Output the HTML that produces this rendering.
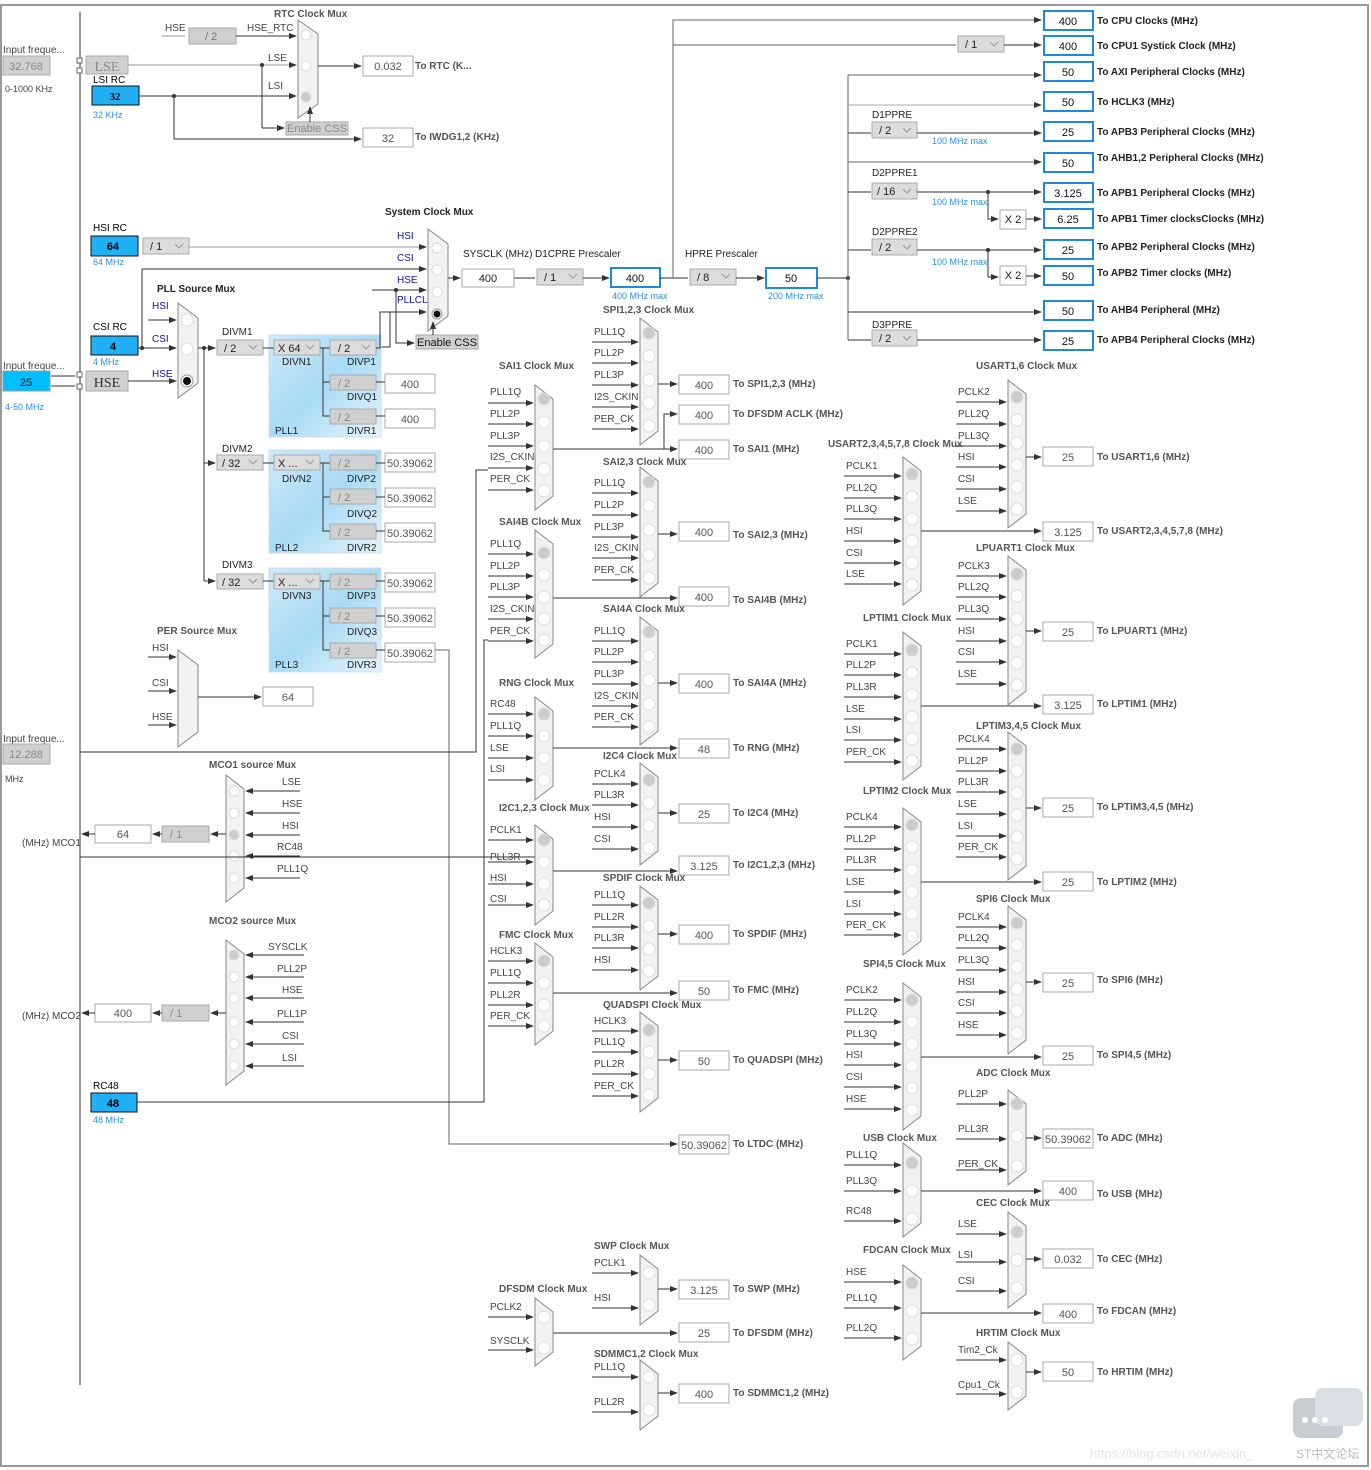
<!DOCTYPE html>
<html><head><meta charset="utf-8"><style>
html,body{margin:0;padding:0;background:#fff}
svg{display:block}
text{font-family:"Liberation Sans",sans-serif;font-size:10px;fill:#444}
.b{font-weight:bold;fill:#555}
.bl{fill:#2b8ff0}
.nv{fill:#1010b0}
.c{text-anchor:middle;fill:#555;font-size:11px}
.l{stroke:#333;stroke-width:1;fill:none}
.g{stroke:#999;stroke-width:1;fill:none}
.a{stroke:#333;stroke-width:1;fill:none;marker-end:url(#ar)}
.mx{fill:#f2f2f2;stroke:#888;stroke-width:1}
.ci{fill:#fff;stroke:#ddd}
.ob{fill:#fff;stroke:#aaa}
.bb{fill:#fff;stroke:#1e88e5;stroke-width:2}
.blu{fill:#1fb0f5;stroke:#111}
.dd{fill:#dcdcdc;stroke:#aaa}
.gr{fill:#d0d0d0;stroke:#aaa}
</style></head><body>
<svg width="1371" height="1470" viewBox="0 0 1371 1470" xmlns="http://www.w3.org/2000/svg">
<defs>
<marker id="ar" markerWidth="8" markerHeight="8" refX="7" refY="4" orient="auto" markerUnits="userSpaceOnUse"><path d="M0,1 L8,4 L0,7 z" fill="#333"/></marker>
<linearGradient id="pll" x1="0" y1="0" x2="1" y2="1"><stop offset="0" stop-color="#cde9f8"/><stop offset="0.5" stop-color="#a8dbf5"/><stop offset="1" stop-color="#e6f4fb"/></linearGradient>
</defs>
<rect x="1" y="5" width="1367" height="1461" fill="none" stroke="#999" stroke-width="2"/>
<line x1="80" y1="12" x2="80" y2="1385" class="l"/>

<!-- ===== top-left RTC ===== -->
<text x="3" y="53">Input freque...</text>
<rect x="3" y="56" width="47" height="19" class="gr"/><text x="26" y="70" class="c" style="fill:#888">32.768</text>
<text x="5" y="92" style="font-size:9px">0-1000 KHz</text>
<rect x="86" y="56" width="42" height="18" class="gr"/><text x="107" y="71" class="c" style="font-family:'Liberation Serif';font-size:14px;fill:#888">LSE</text>
<text x="93" y="83" style="fill:#000">LSI RC</text>
<rect x="92" y="86" width="47" height="19" class="blu"/><text x="115" y="100" class="c" style="fill:#000;font-weight:bold;font-family:'Liberation Serif'">32</text>
<text x="93" y="118" class="bl" style="font-size:9px">32 KHz</text>
<text x="274" y="17" class="b">RTC Clock Mux</text>
<text x="165" y="31">HSE</text><line x1="162" y1="36" x2="185" y2="36" class="g"/>
<rect x="189" y="28" width="47" height="16" class="gr"/><text x="205" y="40" style="fill:#777;font-size:11px">/ 2</text>
<text x="247" y="31">HSE_RTC</text>
<line x1="236" y1="36" x2="296" y2="36" class="a"/>
<polygon points="298,20 318,34 318,104 298,118" class="mx"/>
<circle cx="306" cy="35" r="5" class="ci"/><circle cx="306" cy="66" r="5" class="ci"/><circle cx="306" cy="97" r="5" fill="#ccc" stroke="#ddd"/>
<line x1="128" y1="65" x2="296" y2="65" class="a" style="stroke:#999"/><text x="268" y="61">LSE</text>
<line x1="139" y1="96" x2="296" y2="96" class="a"/><text x="268" y="89">LSI</text>
<circle cx="174" cy="96" r="2" fill="#333"/><circle cx="262" cy="65" r="2" fill="#333"/>
<line x1="262" y1="65" x2="262" y2="128" class="l"/><line x1="262" y1="128" x2="284" y2="128" class="a"/>
<rect x="286" y="122" width="62" height="13" class="gr"/><text x="317" y="132" class="c" style="fill:#888">Enable CSS</text>
<line x1="310" y1="122" x2="310" y2="107" class="a"/>
<line x1="318" y1="66" x2="361" y2="66" class="a"/>
<rect x="363" y="56" width="50" height="20" class="ob"/><text x="388" y="70" class="c">0.032</text><text x="415" y="69" class="b">To RTC (K...</text>
<line x1="174" y1="96" x2="174" y2="139" class="l"/><line x1="174" y1="139" x2="361" y2="139" class="a"/>
<rect x="363" y="128" width="50" height="19" class="ob"/><text x="388" y="142" class="c">32</text><text x="415" y="140" class="b">To IWDG1,2 (KHz)</text>

<!-- ===== HSI / CSI / HSE / system mux ===== -->
<text x="93" y="231" style="fill:#000">HSI RC</text>
<rect x="91" y="236" width="47" height="20" class="blu"/><text x="113" y="250" class="c" style="fill:#000;font-weight:bold">64</text>
<text x="93" y="265" class="bl" style="font-size:9px">64 MHz</text>
<rect x="143" y="238" width="46" height="16" class="dd"/><text x="150" y="250" style="font-size:11px;fill:#222">/ 1</text><path d="M175,244 l4,4 l4,-4" class="g"/>
<line x1="189" y1="247" x2="426" y2="247" class="a" style="stroke:#999"/>
<text x="93" y="330" style="fill:#000">CSI RC</text>
<rect x="91" y="336" width="47" height="19" class="blu"/><text x="113" y="350" class="c" style="fill:#000;font-weight:bold">4</text>
<text x="93" y="365" class="bl" style="font-size:9px">4 MHz</text>
<line x1="138" y1="348" x2="176" y2="348" class="a"/><circle cx="142" cy="348" r="2" fill="#333"/>
<line x1="142" y1="348" x2="142" y2="269" class="l"/><line x1="142" y1="269" x2="426" y2="269" class="a"/>
<text x="3" y="369">Input freque...</text>
<rect x="3" y="371" width="47" height="20" style="fill:#00bfff;stroke:#999"/><text x="26" y="386" class="c" style="fill:#000">25</text>
<text x="5" y="410" class="bl" style="font-size:9px">4-50 MHz</text>
<path d="M51,376 h24 M51,386 h24" class="l"/><rect x="77" y="372" width="5" height="5" fill="#fff" stroke="#666"/><rect x="77" y="384" width="5" height="5" fill="#fff" stroke="#666"/>
<rect x="77" y="58" width="5" height="5" fill="#fff" stroke="#666"/><rect x="77" y="68" width="5" height="5" fill="#fff" stroke="#666"/>
<rect x="86" y="371" width="42" height="20" class="gr"/><text x="107" y="387" class="c" style="font-family:'Liberation Serif';font-size:14px;fill:#333">HSE</text>
<line x1="128" y1="381" x2="176" y2="381" class="a"/>
<text x="157" y="292" class="b" style="fill:#222">PLL Source Mux</text>
<text x="152" y="309" class="nv">HSI</text><text x="152" y="342" class="nv">CSI</text><text x="152" y="377" class="nv">HSE</text>
<line x1="148" y1="320" x2="176" y2="320" class="a"/>
<polygon points="178,303 198,318 198,383 178,398" class="mx"/>
<circle cx="187" cy="320" r="6" class="ci"/><circle cx="187" cy="349" r="6" class="ci"/><circle cx="187" cy="381" r="6" fill="#fff" stroke="#999"/><circle cx="187" cy="381" r="4" fill="#111"/>
<line x1="198" y1="348" x2="215" y2="348" class="a"/><circle cx="204" cy="348" r="2" fill="#333"/>
<line x1="204" y1="348" x2="204" y2="581" class="l"/>
<line x1="204" y1="463" x2="215" y2="463" class="a"/><line x1="204" y1="581" x2="215" y2="581" class="a"/>

<text x="385" y="215" class="b" style="fill:#222">System Clock Mux</text>
<text x="397" y="239" class="nv">HSI</text><text x="397" y="261" class="nv">CSI</text><text x="397" y="283" class="nv">HSE</text><text x="397" y="303" class="nv">PLLCLK</text>
<line x1="372" y1="290" x2="426" y2="290" class="a"/><circle cx="396" cy="290" r="2" fill="#333"/>
<polygon points="428,229 448,244 448,316 428,331" class="mx"/>
<circle cx="437" cy="248" r="5" class="ci"/><circle cx="437" cy="270" r="5" class="ci"/><circle cx="437" cy="292" r="5" class="ci"/><circle cx="437" cy="314" r="5" fill="#fff" stroke="#999"/><circle cx="437" cy="314" r="3.5" fill="#111"/>
<path d="M380,347 h10 v-35 h36" class="a"/>
<path d="M396,290 v53 h18" class="a"/>
<rect x="416" y="335" width="62" height="14" class="gr"/><text x="447" y="346" class="c" style="fill:#111">Enable CSS</text>
<line x1="433" y1="335" x2="433" y2="322" class="a"/>
<line x1="448" y1="278" x2="460" y2="278" class="a"/>
<text x="463" y="257" style="fill:#222">SYSCLK (MHz)</text><text x="535" y="257" style="fill:#222">D1CPRE Prescaler</text>
<rect x="462" y="269" width="52" height="18" class="ob"/><text x="488" y="282" class="c" style="fill:#222">400</text>
<line x1="514" y1="278" x2="535" y2="278" class="l"/>
<rect x="537" y="269" width="46" height="16" class="dd"/><text x="544" y="281" style="font-size:11px;fill:#222">/ 1</text><path d="M569,274 l4,4 l4,-4" class="g"/>
<line x1="583" y1="278" x2="609" y2="278" class="a"/>
<rect x="611" y="268" width="49" height="19" class="bb"/><text x="635" y="282" class="c" style="fill:#111">400</text>
<text x="612" y="299" class="bl" style="font-size:9px">400 MHz max</text>
<text x="685" y="257" style="fill:#222">HPRE Prescaler</text>
<line x1="660" y1="278" x2="688" y2="278" class="l"/>
<rect x="690" y="269" width="46" height="16" class="dd"/><text x="697" y="281" style="font-size:11px;fill:#222">/ 8</text><path d="M722,274 l4,4 l4,-4" class="g"/>
<line x1="736" y1="278" x2="764" y2="278" class="a"/>
<rect x="766" y="268" width="51" height="20" class="bb"/><text x="791" y="282" class="c" style="fill:#111">50</text>
<text x="768" y="299" class="bl" style="font-size:9px">200 MHz max</text>
<line x1="817" y1="278" x2="848" y2="278" class="l"/><circle cx="848" cy="278" r="2" fill="#333"/>
<path d="M673,278 V20 H1041" class="a" style="stroke:#666"/>
<path d="M673,45 H956" class="l" style="stroke:#666"/>
<rect x="958" y="36" width="46" height="16" class="dd"/><text x="965" y="48" style="font-size:11px;fill:#222">/ 1</text><path d="M990,42 l4,4 l4,-4" class="g"/>
<line x1="1004" y1="45" x2="1041" y2="45" class="a"/>

<!-- bus -->
<line x1="848" y1="75" x2="848" y2="340" class="l" style="stroke:#666"/>
<line x1="848" y1="75" x2="1041" y2="75" class="a" style="stroke:#666"/>
<line x1="848" y1="105" x2="1041" y2="105" class="a" style="stroke:#aaa"/>
<text x="872" y="118" style="fill:#222">D1PPRE</text>
<line x1="848" y1="133" x2="871" y2="133" class="l"/><rect x="872" y="122" width="45" height="16" class="dd"/><text x="879" y="134" style="font-size:11px;fill:#222">/ 2</text><path d="M903,128 l4,4 l4,-4" class="g"/>
<line x1="917" y1="133" x2="1041" y2="133" class="a"/><text x="932" y="144" class="bl" style="font-size:9px">100 MHz max</text>
<line x1="848" y1="162" x2="1041" y2="162" class="a" style="stroke:#666"/>
<text x="872" y="176" style="fill:#222">D2PPRE1</text>
<line x1="848" y1="192" x2="871" y2="192" class="l"/><rect x="872" y="183" width="45" height="16" class="dd"/><text x="877" y="195" style="font-size:11px;fill:#222">/ 16</text><path d="M903,189 l4,4 l4,-4" class="g"/>
<line x1="917" y1="192" x2="1041" y2="192" class="a"/><text x="932" y="205" class="bl" style="font-size:9px">100 MHz max</text>
<circle cx="988" cy="192" r="2" fill="#333"/><path d="M988,192 v27 h10" class="a"/>
<rect x="1000" y="210" width="26" height="19" class="ob"/><text x="1013" y="223" class="c" style="fill:#222">X 2</text><line x1="1026" y1="219" x2="1041" y2="219" class="a"/>
<text x="872" y="235" style="fill:#222">D2PPRE2</text>
<line x1="848" y1="250" x2="871" y2="250" class="l"/><rect x="872" y="239" width="45" height="16" class="dd"/><text x="879" y="251" style="font-size:11px;fill:#222">/ 2</text><path d="M903,245 l4,4 l4,-4" class="g"/>
<line x1="917" y1="250" x2="1041" y2="250" class="a"/><text x="932" y="265" class="bl" style="font-size:9px">100 MHz max</text>
<circle cx="988" cy="250" r="2" fill="#333"/><path d="M988,250 v27 h10" class="a"/>
<rect x="1000" y="266" width="26" height="19" class="ob"/><text x="1013" y="279" class="c" style="fill:#222">X 2</text><line x1="1026" y1="276" x2="1041" y2="276" class="a"/>
<line x1="848" y1="312" x2="1041" y2="312" class="a"/>
<text x="872" y="328" style="fill:#222">D3PPRE</text>
<line x1="848" y1="340" x2="871" y2="340" class="l"/><rect x="872" y="330" width="45" height="16" class="dd"/><text x="879" y="342" style="font-size:11px;fill:#222">/ 2</text><path d="M903,336 l4,4 l4,-4" class="g"/>
<line x1="917" y1="340" x2="1041" y2="340" class="a"/>

<g style="font-size:11px">
<rect x="1044" y="11" width="49" height="19" class="bb"/><text x="1068" y="25" class="c" style="fill:#111">400</text><text x="1097" y="24" class="b" style="fill:#222">To CPU Clocks (MHz)</text>
<rect x="1044" y="36" width="49" height="19" class="bb"/><text x="1068" y="50" class="c" style="fill:#111">400</text><text x="1097" y="49" class="b" style="fill:#222">To CPU1 Systick Clock (MHz)</text>
<rect x="1044" y="62" width="49" height="19" class="bb"/><text x="1068" y="76" class="c" style="fill:#111">50</text><text x="1097" y="75" class="b" style="fill:#222">To AXI Peripheral Clocks (MHz)</text>
<rect x="1044" y="92" width="49" height="19" class="bb"/><text x="1068" y="106" class="c" style="fill:#111">50</text><text x="1097" y="105" class="b" style="fill:#222">To HCLK3 (MHz)</text>
<rect x="1044" y="122" width="49" height="19" class="bb"/><text x="1068" y="136" class="c" style="fill:#111">25</text><text x="1097" y="135" class="b" style="fill:#222">To APB3 Peripheral Clocks (MHz)</text>
<rect x="1044" y="153" width="49" height="19" class="bb"/><text x="1068" y="167" class="c" style="fill:#111">50</text><text x="1097" y="161" class="b" style="fill:#222">To AHB1,2 Peripheral Clocks (MHz)</text>
<rect x="1044" y="183" width="49" height="19" class="bb"/><text x="1068" y="197" class="c" style="fill:#111">3.125</text><text x="1097" y="196" class="b" style="fill:#222">To APB1 Peripheral Clocks (MHz)</text>
<rect x="1044" y="209" width="49" height="19" class="bb"/><text x="1068" y="223" class="c" style="fill:#111">6.25</text><text x="1097" y="222" class="b" style="fill:#222">To APB1 Timer clocksClocks (MHz)</text>
<rect x="1044" y="240" width="49" height="19" class="bb"/><text x="1068" y="254" class="c" style="fill:#111">25</text><text x="1097" y="250" class="b" style="fill:#222">To APB2 Peripheral Clocks (MHz)</text>
<rect x="1044" y="266" width="49" height="19" class="bb"/><text x="1068" y="280" class="c" style="fill:#111">50</text><text x="1097" y="276" class="b" style="fill:#222">To APB2 Timer clocks (MHz)</text>
<rect x="1044" y="301" width="49" height="19" class="bb"/><text x="1068" y="315" class="c" style="fill:#111">50</text><text x="1097" y="313" class="b" style="fill:#222">To AHB4 Peripheral (MHz)</text>
<rect x="1044" y="331" width="49" height="19" class="bb"/><text x="1068" y="345" class="c" style="fill:#111">25</text><text x="1097" y="343" class="b" style="fill:#222">To APB4 Peripheral Clocks (MHz)</text>
</g>

<!-- ===== PLLs ===== -->
<rect x="269" y="335" width="112" height="102" fill="url(#pll)" stroke="#cde"/>
<rect x="269" y="450" width="112" height="103" fill="url(#pll)" stroke="#cde"/>
<rect x="269" y="568" width="112" height="104" fill="url(#pll)" stroke="#cde"/>
<text x="222" y="335" style="fill:#222">DIVM1</text><text x="222" y="452" style="fill:#222">DIVM2</text><text x="222" y="568" style="fill:#222">DIVM3</text>
<g>
<rect x="217" y="340" width="46" height="15" class="dd"/><text x="224" y="352" style="font-size:11px;fill:#222">/ 2</text><path d="M249,345 l4,4 l4,-4" class="g"/>
<rect x="217" y="455" width="46" height="15" class="dd"/><text x="222" y="467" style="font-size:11px;fill:#222">/ 32</text><path d="M249,460 l4,4 l4,-4" class="g"/>
<rect x="217" y="574" width="46" height="15" class="dd"/><text x="222" y="586" style="font-size:11px;fill:#222">/ 32</text><path d="M249,579 l4,4 l4,-4" class="g"/>
<path d="M263,348 h11 M263,463 h11 M263,581 h11" class="l"/>
<rect x="274" y="340" width="46" height="15" class="dd"/><text x="278" y="352" style="font-size:11px;fill:#222">X 64</text><path d="M306,345 l4,4 l4,-4" class="g"/>
<rect x="274" y="455" width="46" height="15" class="dd"/><text x="278" y="467" style="font-size:11px;fill:#222">X ...</text><path d="M306,460 l4,4 l4,-4" class="g"/>
<rect x="274" y="574" width="46" height="15" class="dd"/><text x="278" y="586" style="font-size:11px;fill:#222">X ...</text><path d="M306,579 l4,4 l4,-4" class="g"/>
<text x="282" y="365" style="fill:#222">DIVN1</text><text x="282" y="482" style="fill:#222">DIVN2</text><text x="282" y="599" style="fill:#222">DIVN3</text>
<path d="M320,348 h10 M323,348 v68 h7 M323,382 h7" class="l"/>
<path d="M320,463 h10 M323,463 v68 h7 M323,497 h7" class="l"/>
<path d="M320,581 h10 M323,581 v69 h7 M323,616 h7" class="l"/>
<rect x="330" y="340" width="46" height="15" class="dd"/><text x="338" y="352" style="font-size:11px;fill:#222">/ 2</text><path d="M362,345 l4,4 l4,-4" class="g"/>
<rect x="330" y="375" width="46" height="15" class="gr"/><text x="338" y="387" style="font-size:11px;fill:#888">/ 2</text>
<rect x="330" y="409" width="46" height="15" class="gr"/><text x="338" y="421" style="font-size:11px;fill:#888">/ 2</text>
<rect x="330" y="455" width="46" height="15" class="gr"/><text x="338" y="467" style="font-size:11px;fill:#888">/ 2</text>
<rect x="330" y="489" width="46" height="15" class="gr"/><text x="338" y="501" style="font-size:11px;fill:#888">/ 2</text>
<rect x="330" y="524" width="46" height="15" class="gr"/><text x="338" y="536" style="font-size:11px;fill:#888">/ 2</text>
<rect x="330" y="574" width="46" height="15" class="gr"/><text x="338" y="586" style="font-size:11px;fill:#888">/ 2</text>
<rect x="330" y="608" width="46" height="15" class="gr"/><text x="338" y="620" style="font-size:11px;fill:#888">/ 2</text>
<rect x="330" y="643" width="46" height="15" class="gr"/><text x="338" y="655" style="font-size:11px;fill:#888">/ 2</text>
<text x="347" y="365" style="fill:#222">DIVP1</text><text x="347" y="400" style="fill:#222">DIVQ1</text><text x="347" y="434" style="fill:#222">DIVR1</text><text x="275" y="434" style="fill:#222">PLL1</text>
<text x="347" y="482" style="fill:#222">DIVP2</text><text x="347" y="517" style="fill:#222">DIVQ2</text><text x="347" y="551" style="fill:#222">DIVR2</text><text x="275" y="551" style="fill:#222">PLL2</text>
<text x="347" y="599" style="fill:#222">DIVP3</text><text x="347" y="635" style="fill:#222">DIVQ3</text><text x="347" y="668" style="fill:#222">DIVR3</text><text x="275" y="668" style="fill:#222">PLL3</text>
<path d="M376,348 h4 v-36 h12" class="l"/>
<rect x="385" y="374" width="50" height="19" class="ob"/><text x="410" y="388" class="c">400</text>
<rect x="385" y="409" width="50" height="19" class="ob"/><text x="410" y="423" class="c">400</text>
<rect x="385" y="453" width="50" height="19" class="ob"/><text x="410" y="467" class="c">50.39062</text>
<rect x="385" y="488" width="50" height="19" class="ob"/><text x="410" y="502" class="c">50.39062</text>
<rect x="385" y="523" width="50" height="19" class="ob"/><text x="410" y="537" class="c">50.39062</text>
<rect x="385" y="573" width="50" height="19" class="ob"/><text x="410" y="587" class="c">50.39062</text>
<rect x="385" y="608" width="50" height="19" class="ob"/><text x="410" y="622" class="c">50.39062</text>
<rect x="385" y="643" width="50" height="19" class="ob"/><text x="410" y="657" class="c">50.39062</text>
<path d="M376,382 h9 M376,416 h9 M376,463 h9 M376,497 h9 M376,531 h9 M376,581 h9 M376,616 h9 M376,650 h9" class="l"/>
</g>
<path d="M435,650 h14 V1144 H677" class="a" style="stroke:#666"/>
<rect x="679" y="1135" width="50" height="19" class="ob"/><text x="704" y="1149" class="c">50.39062</text><text x="733" y="1147" class="b">To LTDC (MHz)</text>

<!-- PER source mux -->
<text x="157" y="634" class="b">PER Source Mux</text>
<text x="152" y="651">HSI</text><text x="152" y="686">CSI</text><text x="152" y="720">HSE</text>
<line x1="148" y1="657" x2="176" y2="657" class="a"/><line x1="148" y1="691" x2="176" y2="691" class="a"/><line x1="148" y1="725" x2="176" y2="725" class="a"/>
<polygon points="178,650 198,665 198,732 178,747" class="mx"/>
<line x1="198" y1="697" x2="261" y2="697" class="a"/>
<rect x="263" y="687" width="50" height="19" class="ob"/><text x="288" y="701" class="c">64</text>

<text x="3" y="742">Input freque...</text>
<rect x="3" y="744" width="47" height="20" class="gr"/><text x="26" y="758" class="c" style="fill:#888">12.288</text>
<text x="5" y="782" style="font-size:9px">MHz</text>
<path d="M80,752 H476 V470 H488" class="l" style="stroke:#333"/>

<!-- MCO -->
<text x="209" y="768" class="b">MCO1 source Mux</text>
<polygon points="226,775 244,789 244,888 226,902" class="mx"/>
<g>
<line x1="300" y1="791" x2="246" y2="791" class="a"/><text x="282" y="785">LSE</text>
<line x1="300" y1="813" x2="246" y2="813" class="a"/><text x="282" y="807">HSE</text>
<line x1="300" y1="835" x2="246" y2="835" class="a"/><text x="282" y="829">HSI</text>
<line x1="300" y1="856" x2="246" y2="856" class="a"/><text x="277" y="850">RC48</text>
<line x1="300" y1="878" x2="246" y2="878" class="a"/><text x="277" y="872">PLL1Q</text>
</g>
<circle cx="234" cy="791" r="5" class="ci"/><circle cx="234" cy="813" r="5" class="ci"/><circle cx="234" cy="835" r="5" fill="#ccc" stroke="#ddd"/><circle cx="234" cy="856" r="5" class="ci"/><circle cx="234" cy="878" r="5" class="ci"/>
<line x1="226" y1="834" x2="211" y2="834" class="a"/>
<rect x="162" y="826" width="47" height="16" class="gr"/><text x="170" y="838" style="font-size:11px;fill:#888">/ 1</text>
<line x1="162" y1="834" x2="153" y2="834" class="a"/>
<rect x="95" y="825" width="56" height="18" class="ob"/><text x="123" y="838" class="c">64</text>
<line x1="95" y1="834" x2="82" y2="834" class="a"/>
<text x="22" y="846">(MHz) MCO1</text>
<text x="209" y="924" class="b">MCO2 source Mux</text>
<polygon points="226,940 244,954 244,1071 226,1085" class="mx"/>
<g>
<line x1="304" y1="955" x2="246" y2="955" class="a"/><text x="268" y="950">SYSCLK</text>
<line x1="304" y1="977" x2="246" y2="977" class="a"/><text x="277" y="972">PLL2P</text>
<line x1="304" y1="998" x2="246" y2="998" class="a"/><text x="282" y="993">HSE</text>
<line x1="304" y1="1022" x2="246" y2="1022" class="a"/><text x="277" y="1017">PLL1P</text>
<line x1="304" y1="1044" x2="246" y2="1044" class="a"/><text x="282" y="1039">CSI</text>
<line x1="304" y1="1066" x2="246" y2="1066" class="a"/><text x="282" y="1061">LSI</text>
</g>
<circle cx="234" cy="955" r="5" fill="#ccc" stroke="#ddd"/><circle cx="234" cy="977" r="5" class="ci"/><circle cx="234" cy="998" r="5" class="ci"/><circle cx="234" cy="1022" r="5" class="ci"/><circle cx="234" cy="1044" r="5" class="ci"/><circle cx="234" cy="1066" r="5" class="ci"/>
<line x1="226" y1="1013" x2="211" y2="1013" class="a"/>
<rect x="162" y="1005" width="47" height="16" class="gr"/><text x="170" y="1017" style="font-size:11px;fill:#888">/ 1</text>
<line x1="162" y1="1013" x2="153" y2="1013" class="a"/>
<rect x="95" y="1004" width="56" height="18" class="ob"/><text x="123" y="1017" class="c">400</text>
<line x1="95" y1="1013" x2="82" y2="1013" class="a"/>
<text x="22" y="1019">(MHz) MCO2</text>
<text x="93" y="1089" style="fill:#000">RC48</text>
<rect x="91" y="1093" width="46" height="19" class="blu"/><text x="113" y="1107" class="c" style="fill:#000;font-weight:bold">48</text>
<text x="93" y="1123" class="bl" style="font-size:9px">48 MHz</text>
<path d="M137,1102 H484 V640 H488" class="l"/>
<path d="M80,857 H537" class="l"/>

<!-- ===== Column A muxes (x=535) ===== -->
<g>
<text x="499" y="369" class="b">SAI1 Clock Mux</text>
<polygon points="535,385 553,399 553,496 535,510" class="mx"/>
<text x="490" y="395">PLL1Q</text><line x1="488" y1="403" x2="533" y2="403" class="a"/>
<text x="490" y="417">PLL2P</text><line x1="488" y1="424" x2="533" y2="424" class="a"/>
<text x="490" y="439">PLL3P</text><line x1="488" y1="446" x2="533" y2="446" class="a"/>
<text x="490" y="460">I2S_CKIN</text><line x1="488" y1="468" x2="533" y2="468" class="a"/>
<text x="490" y="482">PER_CK</text><line x1="488" y1="490" x2="533" y2="490" class="a"/>
<circle cx="544" cy="399" r="6" fill="#ccc" stroke="#ddd"/><circle cx="544" cy="422" r="6" class="ci"/><circle cx="544" cy="446" r="6" class="ci"/><circle cx="544" cy="469" r="6" class="ci"/><circle cx="544" cy="491" r="6" class="ci"/>
<line x1="553" y1="449" x2="677" y2="449" class="a"/><path d="M664,449 V414 H677" class="a"/>

<text x="499" y="525" class="b">SAI4B Clock Mux</text>
<polygon points="535,530 553,544 553,644 535,658" class="mx"/>
<text x="490" y="547">PLL1Q</text><line x1="488" y1="554" x2="533" y2="554" class="a"/>
<text x="490" y="569">PLL2P</text><line x1="488" y1="576" x2="533" y2="576" class="a"/>
<text x="490" y="590">PLL3P</text><line x1="488" y1="597" x2="533" y2="597" class="a"/>
<text x="490" y="612">I2S_CKIN</text><line x1="488" y1="619" x2="533" y2="619" class="a"/>
<text x="490" y="634">PER_CK</text><line x1="488" y1="641" x2="533" y2="641" class="a"/>
<circle cx="544" cy="553" r="6" fill="#ccc" stroke="#ddd"/><circle cx="544" cy="575" r="6" class="ci"/><circle cx="544" cy="597" r="6" class="ci"/><circle cx="544" cy="619" r="6" class="ci"/><circle cx="544" cy="640" r="6" class="ci"/>
<line x1="553" y1="598" x2="677" y2="598" class="a"/>

<text x="499" y="686" class="b">RNG Clock Mux</text>
<polygon points="535,697 553,711 553,786 535,800" class="mx"/>
<text x="490" y="707">RC48</text><line x1="488" y1="714" x2="533" y2="714" class="a"/>
<text x="490" y="729">PLL1Q</text><line x1="488" y1="736" x2="533" y2="736" class="a"/>
<text x="490" y="751">LSE</text><line x1="488" y1="758" x2="533" y2="758" class="a"/>
<text x="490" y="772">LSI</text><line x1="488" y1="780" x2="533" y2="780" class="a"/>
<circle cx="544" cy="714" r="6" fill="#ccc" stroke="#ddd"/><circle cx="544" cy="736" r="6" class="ci"/><circle cx="544" cy="758" r="6" class="ci"/><circle cx="544" cy="780" r="6" class="ci"/>
<line x1="553" y1="748" x2="677" y2="748" class="a"/>

<text x="499" y="811" class="b">I2C1,2,3 Clock Mux</text>
<polygon points="535,825 553,839 553,911 535,925" class="mx"/>
<text x="490" y="833">PCLK1</text><line x1="488" y1="840" x2="533" y2="840" class="a"/>
<text x="490" y="860">PLL3R</text><line x1="488" y1="862" x2="533" y2="862" class="a"/>
<text x="490" y="881">HSI</text><line x1="488" y1="884" x2="533" y2="884" class="a"/>
<text x="490" y="902">CSI</text><line x1="488" y1="905" x2="533" y2="905" class="a"/>
<circle cx="544" cy="840" r="6" fill="#ccc" stroke="#ddd"/><circle cx="544" cy="862" r="6" class="ci"/><circle cx="544" cy="884" r="6" class="ci"/><circle cx="544" cy="905" r="6" class="ci"/>
<line x1="553" y1="871" x2="677" y2="871" class="a"/>

<text x="499" y="938" class="b">FMC Clock Mux</text>
<polygon points="535,943 553,957 553,1031 535,1045" class="mx"/>
<text x="490" y="954">HCLK3</text><line x1="488" y1="961" x2="533" y2="961" class="a"/>
<text x="490" y="976">PLL1Q</text><line x1="488" y1="983" x2="533" y2="983" class="a"/>
<text x="490" y="998">PLL2R</text><line x1="488" y1="1005" x2="533" y2="1005" class="a"/>
<text x="490" y="1019">PER_CK</text><line x1="488" y1="1026" x2="533" y2="1026" class="a"/>
<circle cx="544" cy="961" r="6" fill="#ccc" stroke="#ddd"/><circle cx="544" cy="983" r="6" class="ci"/><circle cx="544" cy="1005" r="6" class="ci"/><circle cx="544" cy="1026" r="6" class="ci"/>
<line x1="553" y1="993" x2="677" y2="993" class="a"/>

<text x="499" y="1292" class="b">DFSDM Clock Mux</text>
<polygon points="535,1298 553,1312 553,1352 535,1366" class="mx"/>
<text x="490" y="1310">PCLK2</text><line x1="488" y1="1317" x2="533" y2="1317" class="a"/>
<text x="490" y="1344">SYSCLK</text><line x1="488" y1="1350" x2="533" y2="1350" class="a"/>
<circle cx="544" cy="1317" r="6" class="ci"/><circle cx="544" cy="1348" r="6" class="ci"/>
<line x1="553" y1="1333" x2="677" y2="1333" class="a"/>
</g>

<!-- ===== Column B muxes (x=640) ===== -->
<g>
<text x="603" y="313" class="b">SPI1,2,3 Clock Mux</text>
<polygon points="640,318 658,332 658,431 640,445" class="mx"/>
<text x="594" y="335">PLL1Q</text><line x1="592" y1="342" x2="638" y2="342" class="a"/>
<text x="594" y="356">PLL2P</text><line x1="592" y1="363" x2="638" y2="363" class="a"/>
<text x="594" y="378">PLL3P</text><line x1="592" y1="385" x2="638" y2="385" class="a"/>
<text x="594" y="400">I2S_CKIN</text><line x1="592" y1="407" x2="638" y2="407" class="a"/>
<text x="594" y="422">PER_CK</text><line x1="592" y1="429" x2="638" y2="429" class="a"/>
<circle cx="649" cy="333" r="6" fill="#ccc" stroke="#ddd"/><circle cx="649" cy="356" r="6" class="ci"/><circle cx="649" cy="380" r="6" class="ci"/><circle cx="649" cy="403" r="6" class="ci"/><circle cx="649" cy="426" r="6" class="ci"/>
<line x1="658" y1="384" x2="677" y2="384" class="a"/>

<text x="603" y="465" class="b">SAI2,3 Clock Mux</text>
<polygon points="640,467 658,481 658,583 640,597" class="mx"/>
<text x="594" y="486">PLL1Q</text><line x1="592" y1="493" x2="638" y2="493" class="a"/>
<text x="594" y="508">PLL2P</text><line x1="592" y1="515" x2="638" y2="515" class="a"/>
<text x="594" y="530">PLL3P</text><line x1="592" y1="537" x2="638" y2="537" class="a"/>
<text x="594" y="551">I2S_CKIN</text><line x1="592" y1="558" x2="638" y2="558" class="a"/>
<text x="594" y="573">PER_CK</text><line x1="592" y1="580" x2="638" y2="580" class="a"/>
<circle cx="649" cy="482" r="6" fill="#ccc" stroke="#ddd"/><circle cx="649" cy="506" r="6" class="ci"/><circle cx="649" cy="530" r="6" class="ci"/><circle cx="649" cy="555" r="6" class="ci"/><circle cx="649" cy="578" r="6" class="ci"/>
<line x1="658" y1="534" x2="677" y2="534" class="a"/>

<text x="603" y="612" class="b">SAI4A Clock Mux</text>
<polygon points="640,617 658,631 658,731 640,745" class="mx"/>
<text x="594" y="634">PLL1Q</text><line x1="592" y1="641" x2="638" y2="641" class="a"/>
<text x="594" y="655">PLL2P</text><line x1="592" y1="662" x2="638" y2="662" class="a"/>
<text x="594" y="677">PLL3P</text><line x1="592" y1="684" x2="638" y2="684" class="a"/>
<text x="594" y="699">I2S_CKIN</text><line x1="592" y1="706" x2="638" y2="706" class="a"/>
<text x="594" y="720">PER_CK</text><line x1="592" y1="727" x2="638" y2="727" class="a"/>
<circle cx="649" cy="632" r="6" fill="#ccc" stroke="#ddd"/><circle cx="649" cy="656" r="6" class="ci"/><circle cx="649" cy="680" r="6" class="ci"/><circle cx="649" cy="704" r="6" class="ci"/><circle cx="649" cy="727" r="6" class="ci"/>
<line x1="658" y1="683" x2="677" y2="683" class="a"/>

<text x="603" y="759" class="b">I2C4 Clock Mux</text>
<polygon points="640,763 658,777 658,851 640,865" class="mx"/>
<text x="594" y="777">PCLK4</text><line x1="592" y1="784" x2="638" y2="784" class="a"/>
<text x="594" y="798">PLL3R</text><line x1="592" y1="805" x2="638" y2="805" class="a"/>
<text x="594" y="820">HSI</text><line x1="592" y1="827" x2="638" y2="827" class="a"/>
<text x="594" y="842">CSI</text><line x1="592" y1="849" x2="638" y2="849" class="a"/>
<circle cx="649" cy="780" r="6" fill="#ccc" stroke="#ddd"/><circle cx="649" cy="803" r="6" class="ci"/><circle cx="649" cy="826" r="6" class="ci"/><circle cx="649" cy="848" r="6" class="ci"/>
<line x1="658" y1="813" x2="677" y2="813" class="a"/>

<text x="603" y="881" class="b">SPDIF Clock Mux</text>
<polygon points="640,886 658,900 658,976 640,990" class="mx"/>
<text x="594" y="898">PLL1Q</text><line x1="592" y1="905" x2="638" y2="905" class="a"/>
<text x="594" y="920">PLL2R</text><line x1="592" y1="927" x2="638" y2="927" class="a"/>
<text x="594" y="941">PLL3R</text><line x1="592" y1="948" x2="638" y2="948" class="a"/>
<text x="594" y="963">HSI</text><line x1="592" y1="970" x2="638" y2="970" class="a"/>
<circle cx="649" cy="903" r="6" fill="#ccc" stroke="#ddd"/><circle cx="649" cy="926" r="6" class="ci"/><circle cx="649" cy="949" r="6" class="ci"/><circle cx="649" cy="971" r="6" class="ci"/>
<line x1="658" y1="934" x2="677" y2="934" class="a"/>

<text x="603" y="1008" class="b">QUADSPI Clock Mux</text>
<polygon points="640,1012 658,1026 658,1098 640,1112" class="mx"/>
<text x="594" y="1024">HCLK3</text><line x1="592" y1="1031" x2="638" y2="1031" class="a"/>
<text x="594" y="1045">PLL1Q</text><line x1="592" y1="1052" x2="638" y2="1052" class="a"/>
<text x="594" y="1067">PLL2R</text><line x1="592" y1="1074" x2="638" y2="1074" class="a"/>
<text x="594" y="1089">PER_CK</text><line x1="592" y1="1096" x2="638" y2="1096" class="a"/>
<circle cx="649" cy="1030" r="6" fill="#ccc" stroke="#ddd"/><circle cx="649" cy="1052" r="6" class="ci"/><circle cx="649" cy="1074" r="6" class="ci"/><circle cx="649" cy="1095" r="6" class="ci"/>
<line x1="658" y1="1060" x2="677" y2="1060" class="a"/>

<text x="594" y="1249" class="b">SWP Clock Mux</text>
<polygon points="640,1255 658,1269 658,1311 640,1325" class="mx"/>
<text x="594" y="1266">PCLK1</text><line x1="592" y1="1273" x2="638" y2="1273" class="a"/>
<text x="594" y="1301">HSI</text><line x1="592" y1="1308" x2="638" y2="1308" class="a"/>
<circle cx="649" cy="1273" r="6" class="ci"/><circle cx="649" cy="1305" r="6" class="ci"/>
<line x1="658" y1="1289" x2="677" y2="1289" class="a"/>

<text x="594" y="1357" class="b">SDMMC1,2 Clock Mux</text>
<polygon points="640,1360 658,1374 658,1416 640,1430" class="mx"/>
<text x="594" y="1370">PLL1Q</text><line x1="592" y1="1377" x2="638" y2="1377" class="a"/>
<text x="594" y="1405">PLL2R</text><line x1="592" y1="1412" x2="638" y2="1412" class="a"/>
<circle cx="649" cy="1377" r="6" class="ci"/><circle cx="649" cy="1410" r="6" class="ci"/>
<line x1="658" y1="1393" x2="677" y2="1393" class="a"/>
</g>

<!-- column B outputs -->
<g>
<rect x="679" y="375" width="50" height="19" class="ob"/><text x="704" y="389" class="c">400</text><text x="733" y="387" class="b">To SPI1,2,3 (MHz)</text>
<rect x="679" y="405" width="50" height="19" class="ob"/><text x="704" y="419" class="c">400</text><text x="733" y="417" class="b">To DFSDM ACLK (MHz)</text>
<rect x="679" y="440" width="50" height="19" class="ob"/><text x="704" y="454" class="c">400</text><text x="733" y="452" class="b">To SAI1 (MHz)</text>
<rect x="679" y="522" width="50" height="19" class="ob"/><text x="704" y="536" class="c">400</text><text x="733" y="538" class="b">To SAI2,3 (MHz)</text>
<rect x="679" y="587" width="50" height="19" class="ob"/><text x="704" y="601" class="c">400</text><text x="733" y="603" class="b">To SAI4B (MHz)</text>
<rect x="679" y="674" width="50" height="19" class="ob"/><text x="704" y="688" class="c">400</text><text x="733" y="686" class="b">To SAI4A (MHz)</text>
<rect x="679" y="739" width="50" height="19" class="ob"/><text x="704" y="753" class="c">48</text><text x="733" y="751" class="b">To RNG (MHz)</text>
<rect x="679" y="804" width="50" height="19" class="ob"/><text x="704" y="818" class="c">25</text><text x="733" y="816" class="b">To I2C4 (MHz)</text>
<rect x="679" y="856" width="50" height="19" class="ob"/><text x="704" y="870" class="c">3.125</text><text x="733" y="868" class="b">To I2C1,2,3 (MHz)</text>
<rect x="679" y="925" width="50" height="19" class="ob"/><text x="704" y="939" class="c">400</text><text x="733" y="937" class="b">To SPDIF (MHz)</text>
<rect x="679" y="981" width="50" height="19" class="ob"/><text x="704" y="995" class="c">50</text><text x="733" y="993" class="b">To FMC (MHz)</text>
<rect x="679" y="1051" width="50" height="19" class="ob"/><text x="704" y="1065" class="c">50</text><text x="733" y="1063" class="b">To QUADSPI (MHz)</text>
<rect x="679" y="1280" width="50" height="19" class="ob"/><text x="704" y="1294" class="c">3.125</text><text x="733" y="1292" class="b">To SWP (MHz)</text>
<rect x="679" y="1323" width="50" height="19" class="ob"/><text x="704" y="1337" class="c">25</text><text x="733" y="1336" class="b">To DFSDM (MHz)</text>
<rect x="679" y="1384" width="50" height="19" class="ob"/><text x="704" y="1398" class="c">400</text><text x="733" y="1396" class="b">To SDMMC1,2 (MHz)</text>
</g>

<!-- ===== Column C muxes (x=903) ===== -->
<g>
<text x="828" y="447" class="b">USART2,3,4,5,7,8 Clock Mux</text>
<polygon points="903,457 921,471 921,591 903,605" class="mx"/>
<text x="846" y="469">PCLK1</text><line x1="844" y1="476" x2="901" y2="476" class="a"/>
<text x="846" y="491">PLL2Q</text><line x1="844" y1="498" x2="901" y2="498" class="a"/>
<text x="846" y="512">PLL3Q</text><line x1="844" y1="519" x2="901" y2="519" class="a"/>
<text x="846" y="534">HSI</text><line x1="844" y1="541" x2="901" y2="541" class="a"/>
<text x="846" y="556">CSI</text><line x1="844" y1="563" x2="901" y2="563" class="a"/>
<text x="846" y="577">LSE</text><line x1="844" y1="584" x2="901" y2="584" class="a"/>
<circle cx="912" cy="474" r="6" fill="#ccc" stroke="#ddd"/><circle cx="912" cy="497" r="6" class="ci"/><circle cx="912" cy="519" r="6" class="ci"/><circle cx="912" cy="541" r="6" class="ci"/><circle cx="912" cy="563" r="6" class="ci"/><circle cx="912" cy="585" r="6" class="ci"/>
<line x1="921" y1="531" x2="1041" y2="531" class="a"/>

<text x="863" y="621" class="b">LPTIM1 Clock Mux</text>
<polygon points="903,632 921,646 921,766 903,780" class="mx"/>
<text x="846" y="647">PCLK1</text><line x1="844" y1="654" x2="901" y2="654" class="a"/>
<text x="846" y="668">PLL2P</text><line x1="844" y1="675" x2="901" y2="675" class="a"/>
<text x="846" y="690">PLL3R</text><line x1="844" y1="697" x2="901" y2="697" class="a"/>
<text x="846" y="712">LSE</text><line x1="844" y1="719" x2="901" y2="719" class="a"/>
<text x="846" y="733">LSI</text><line x1="844" y1="740" x2="901" y2="740" class="a"/>
<text x="846" y="755">PER_CK</text><line x1="844" y1="762" x2="901" y2="762" class="a"/>
<circle cx="912" cy="650" r="6" fill="#ccc" stroke="#ddd"/><circle cx="912" cy="673" r="6" class="ci"/><circle cx="912" cy="695" r="6" class="ci"/><circle cx="912" cy="717" r="6" class="ci"/><circle cx="912" cy="739" r="6" class="ci"/><circle cx="912" cy="761" r="6" class="ci"/>
<line x1="921" y1="706" x2="1041" y2="706" class="a"/>

<text x="863" y="794" class="b">LPTIM2 Clock Mux</text>
<polygon points="903,808 921,822 921,941 903,955" class="mx"/>
<text x="846" y="820">PCLK4</text><line x1="844" y1="827" x2="901" y2="827" class="a"/>
<text x="846" y="842">PLL2P</text><line x1="844" y1="849" x2="901" y2="849" class="a"/>
<text x="846" y="863">PLL3R</text><line x1="844" y1="870" x2="901" y2="870" class="a"/>
<text x="846" y="885">LSE</text><line x1="844" y1="892" x2="901" y2="892" class="a"/>
<text x="846" y="907">LSI</text><line x1="844" y1="914" x2="901" y2="914" class="a"/>
<text x="846" y="928">PER_CK</text><line x1="844" y1="935" x2="901" y2="935" class="a"/>
<circle cx="912" cy="825" r="6" fill="#ccc" stroke="#ddd"/><circle cx="912" cy="847" r="6" class="ci"/><circle cx="912" cy="870" r="6" class="ci"/><circle cx="912" cy="892" r="6" class="ci"/><circle cx="912" cy="914" r="6" class="ci"/><circle cx="912" cy="936" r="6" class="ci"/>
<line x1="921" y1="882" x2="1041" y2="882" class="a"/>

<text x="863" y="967" class="b">SPI4,5 Clock Mux</text>
<polygon points="903,983 921,997 921,1116 903,1130" class="mx"/>
<text x="846" y="993">PCLK2</text><line x1="844" y1="1000" x2="901" y2="1000" class="a"/>
<text x="846" y="1015">PLL2Q</text><line x1="844" y1="1022" x2="901" y2="1022" class="a"/>
<text x="846" y="1037">PLL3Q</text><line x1="844" y1="1044" x2="901" y2="1044" class="a"/>
<text x="846" y="1058">HSI</text><line x1="844" y1="1065" x2="901" y2="1065" class="a"/>
<text x="846" y="1080">CSI</text><line x1="844" y1="1087" x2="901" y2="1087" class="a"/>
<text x="846" y="1102">HSE</text><line x1="844" y1="1109" x2="901" y2="1109" class="a"/>
<circle cx="912" cy="1000" r="6" fill="#ccc" stroke="#ddd"/><circle cx="912" cy="1022" r="6" class="ci"/><circle cx="912" cy="1044" r="6" class="ci"/><circle cx="912" cy="1066" r="6" class="ci"/><circle cx="912" cy="1088" r="6" class="ci"/><circle cx="912" cy="1110" r="6" class="ci"/>
<line x1="921" y1="1057" x2="1041" y2="1057" class="a"/>

<text x="863" y="1141" class="b">USB Clock Mux</text>
<polygon points="903,1143 921,1157 921,1223 903,1237" class="mx"/>
<text x="846" y="1158">PLL1Q</text><line x1="844" y1="1165" x2="901" y2="1165" class="a"/>
<text x="846" y="1184">PLL3Q</text><line x1="844" y1="1191" x2="901" y2="1191" class="a"/>
<text x="846" y="1214">RC48</text><line x1="844" y1="1221" x2="901" y2="1221" class="a"/>
<circle cx="912" cy="1163" r="6" fill="#ccc" stroke="#ddd"/><circle cx="912" cy="1191" r="6" class="ci"/><circle cx="912" cy="1219" r="6" class="ci"/>
<line x1="921" y1="1191" x2="1041" y2="1191" class="a"/>

<text x="863" y="1253" class="b">FDCAN Clock Mux</text>
<polygon points="903,1265 921,1279 921,1346 903,1360" class="mx"/>
<text x="846" y="1275">HSE</text><line x1="844" y1="1282" x2="901" y2="1282" class="a"/>
<text x="846" y="1301">PLL1Q</text><line x1="844" y1="1308" x2="901" y2="1308" class="a"/>
<text x="846" y="1331">PLL2Q</text><line x1="844" y1="1338" x2="901" y2="1338" class="a"/>
<circle cx="912" cy="1283" r="6" fill="#ccc" stroke="#ddd"/><circle cx="912" cy="1311" r="6" class="ci"/><circle cx="912" cy="1339" r="6" class="ci"/>
<line x1="921" y1="1313" x2="1041" y2="1313" class="a"/>
</g>

<!-- ===== Column D muxes (x=1008) ===== -->
<g>
<text x="976" y="369" class="b">USART1,6 Clock Mux</text>
<polygon points="1008,380 1026,394 1026,514 1008,528" class="mx"/>
<text x="958" y="395">PCLK2</text><line x1="956" y1="402" x2="1006" y2="402" class="a"/>
<text x="958" y="417">PLL2Q</text><line x1="956" y1="424" x2="1006" y2="424" class="a"/>
<text x="958" y="439">PLL3Q</text><line x1="956" y1="446" x2="1006" y2="446" class="a"/>
<text x="958" y="460">HSI</text><line x1="956" y1="467" x2="1006" y2="467" class="a"/>
<text x="958" y="482">CSI</text><line x1="956" y1="489" x2="1006" y2="489" class="a"/>
<text x="958" y="504">LSE</text><line x1="956" y1="511" x2="1006" y2="511" class="a"/>
<circle cx="1017" cy="397" r="6" fill="#ccc" stroke="#ddd"/><circle cx="1017" cy="420" r="6" class="ci"/><circle cx="1017" cy="443" r="6" class="ci"/><circle cx="1017" cy="465" r="6" class="ci"/><circle cx="1017" cy="487" r="6" class="ci"/><circle cx="1017" cy="509" r="6" class="ci"/>
<line x1="1026" y1="457" x2="1041" y2="457" class="a"/>

<text x="976" y="551" class="b">LPUART1 Clock Mux</text>
<polygon points="1008,556 1026,570 1026,691 1008,705" class="mx"/>
<text x="958" y="569">PCLK3</text><line x1="956" y1="576" x2="1006" y2="576" class="a"/>
<text x="958" y="590">PLL2Q</text><line x1="956" y1="597" x2="1006" y2="597" class="a"/>
<text x="958" y="612">PLL3Q</text><line x1="956" y1="619" x2="1006" y2="619" class="a"/>
<text x="958" y="634">HSI</text><line x1="956" y1="641" x2="1006" y2="641" class="a"/>
<text x="958" y="655">CSI</text><line x1="956" y1="662" x2="1006" y2="662" class="a"/>
<text x="958" y="677">LSE</text><line x1="956" y1="684" x2="1006" y2="684" class="a"/>
<circle cx="1017" cy="574" r="6" fill="#ccc" stroke="#ddd"/><circle cx="1017" cy="596" r="6" class="ci"/><circle cx="1017" cy="619" r="6" class="ci"/><circle cx="1017" cy="641" r="6" class="ci"/><circle cx="1017" cy="663" r="6" class="ci"/><circle cx="1017" cy="685" r="6" class="ci"/>
<line x1="1026" y1="631" x2="1041" y2="631" class="a"/>

<text x="976" y="729" class="b">LPTIM3,4,5 Clock Mux</text>
<polygon points="1008,732 1026,746 1026,866 1008,880" class="mx"/>
<text x="958" y="742">PCLK4</text><line x1="956" y1="749" x2="1006" y2="749" class="a"/>
<text x="958" y="764">PLL2P</text><line x1="956" y1="771" x2="1006" y2="771" class="a"/>
<text x="958" y="785">PLL3R</text><line x1="956" y1="792" x2="1006" y2="792" class="a"/>
<text x="958" y="807">LSE</text><line x1="956" y1="814" x2="1006" y2="814" class="a"/>
<text x="958" y="829">LSI</text><line x1="956" y1="836" x2="1006" y2="836" class="a"/>
<text x="958" y="850">PER_CK</text><line x1="956" y1="857" x2="1006" y2="857" class="a"/>
<circle cx="1017" cy="749" r="6" fill="#ccc" stroke="#ddd"/><circle cx="1017" cy="771" r="6" class="ci"/><circle cx="1017" cy="793" r="6" class="ci"/><circle cx="1017" cy="815" r="6" class="ci"/><circle cx="1017" cy="837" r="6" class="ci"/><circle cx="1017" cy="859" r="6" class="ci"/>
<line x1="1026" y1="808" x2="1041" y2="808" class="a"/>

<text x="976" y="902" class="b">SPI6 Clock Mux</text>
<polygon points="1008,906 1026,920 1026,1040 1008,1054" class="mx"/>
<text x="958" y="920">PCLK4</text><line x1="956" y1="927" x2="1006" y2="927" class="a"/>
<text x="958" y="941">PLL2Q</text><line x1="956" y1="948" x2="1006" y2="948" class="a"/>
<text x="958" y="963">PLL3Q</text><line x1="956" y1="970" x2="1006" y2="970" class="a"/>
<text x="958" y="985">HSI</text><line x1="956" y1="992" x2="1006" y2="992" class="a"/>
<text x="958" y="1006">CSI</text><line x1="956" y1="1013" x2="1006" y2="1013" class="a"/>
<text x="958" y="1028">HSE</text><line x1="956" y1="1035" x2="1006" y2="1035" class="a"/>
<circle cx="1017" cy="923" r="6" fill="#ccc" stroke="#ddd"/><circle cx="1017" cy="945" r="6" class="ci"/><circle cx="1017" cy="967" r="6" class="ci"/><circle cx="1017" cy="989" r="6" class="ci"/><circle cx="1017" cy="1011" r="6" class="ci"/><circle cx="1017" cy="1033" r="6" class="ci"/>
<line x1="1026" y1="982" x2="1041" y2="982" class="a"/>

<text x="976" y="1076" class="b">ADC Clock Mux</text>
<polygon points="1008,1090 1026,1104 1026,1171 1008,1185" class="mx"/>
<text x="958" y="1097">PLL2P</text><line x1="956" y1="1104" x2="1006" y2="1104" class="a"/>
<text x="958" y="1132">PLL3R</text><line x1="956" y1="1139" x2="1006" y2="1139" class="a"/>
<text x="958" y="1167">PER_CK</text><line x1="956" y1="1170" x2="1006" y2="1170" class="a"/>
<circle cx="1017" cy="1104" r="6" fill="#ccc" stroke="#ddd"/><circle cx="1017" cy="1136" r="6" class="ci"/><circle cx="1017" cy="1166" r="6" class="ci"/>
<line x1="1026" y1="1138" x2="1041" y2="1138" class="a"/>

<text x="976" y="1206" class="b">CEC Clock Mux</text>
<polygon points="1008,1212 1026,1226 1026,1294 1008,1308" class="mx"/>
<text x="958" y="1227">LSE</text><line x1="956" y1="1234" x2="1006" y2="1234" class="a"/>
<text x="958" y="1258">LSI</text><line x1="956" y1="1262" x2="1006" y2="1262" class="a"/>
<text x="958" y="1284">CSI</text><line x1="956" y1="1291" x2="1006" y2="1291" class="a"/>
<circle cx="1017" cy="1232" r="6" fill="#ccc" stroke="#ddd"/><circle cx="1017" cy="1260" r="6" class="ci"/><circle cx="1017" cy="1288" r="6" class="ci"/>
<line x1="1026" y1="1259" x2="1041" y2="1259" class="a"/>

<text x="976" y="1336" class="b">HRTIM Clock Mux</text>
<polygon points="1008,1342 1026,1356 1026,1396 1008,1410" class="mx"/>
<text x="958" y="1353">Tim2_Ck</text><line x1="956" y1="1360" x2="1006" y2="1360" class="a"/>
<text x="958" y="1388">Cpu1_Ck</text><line x1="956" y1="1394" x2="1006" y2="1394" class="a"/>
<circle cx="1017" cy="1360" r="6" class="ci"/><circle cx="1017" cy="1392" r="6" class="ci"/>
<line x1="1026" y1="1372" x2="1041" y2="1372" class="a"/>
</g>

<!-- column D outputs -->
<g>
<rect x="1043" y="447" width="50" height="19" class="ob"/><text x="1068" y="461" class="c">25</text><text x="1097" y="460" class="b">To USART1,6 (MHz)</text>
<rect x="1043" y="522" width="50" height="19" class="ob"/><text x="1068" y="536" class="c">3.125</text><text x="1097" y="534" class="b">To USART2,3,4,5,7,8 (MHz)</text>
<rect x="1043" y="622" width="50" height="19" class="ob"/><text x="1068" y="636" class="c">25</text><text x="1097" y="634" class="b">To LPUART1 (MHz)</text>
<rect x="1043" y="695" width="50" height="19" class="ob"/><text x="1068" y="709" class="c">3.125</text><text x="1097" y="707" class="b">To LPTIM1 (MHz)</text>
<rect x="1043" y="798" width="50" height="19" class="ob"/><text x="1068" y="812" class="c">25</text><text x="1097" y="810" class="b">To LPTIM3,4,5 (MHz)</text>
<rect x="1043" y="872" width="50" height="19" class="ob"/><text x="1068" y="886" class="c">25</text><text x="1097" y="885" class="b">To LPTIM2 (MHz)</text>
<rect x="1043" y="973" width="50" height="19" class="ob"/><text x="1068" y="987" class="c">25</text><text x="1097" y="983" class="b">To SPI6 (MHz)</text>
<rect x="1043" y="1046" width="50" height="19" class="ob"/><text x="1068" y="1060" class="c">25</text><text x="1097" y="1058" class="b">To SPI4,5 (MHz)</text>
<rect x="1043" y="1129" width="50" height="19" class="ob"/><text x="1068" y="1143" class="c">50.39062</text><text x="1097" y="1141" class="b">To ADC (MHz)</text>
<rect x="1043" y="1181" width="50" height="19" class="ob"/><text x="1068" y="1195" class="c">400</text><text x="1097" y="1197" class="b">To USB (MHz)</text>
<rect x="1043" y="1249" width="50" height="19" class="ob"/><text x="1068" y="1263" class="c">0.032</text><text x="1097" y="1262" class="b">To CEC (MHz)</text>
<rect x="1043" y="1304" width="50" height="19" class="ob"/><text x="1068" y="1318" class="c">400</text><text x="1097" y="1314" class="b">To FDCAN (MHz)</text>
<rect x="1043" y="1362" width="50" height="19" class="ob"/><text x="1068" y="1376" class="c">50</text><text x="1097" y="1375" class="b">To HRTIM (MHz)</text>
</g>

<!-- watermark -->
<rect x="1293" y="1398" width="50" height="40" rx="8" fill="#c9ccd0"/>
<rect x="1315" y="1388" width="48" height="38" rx="8" fill="#dcdfe2"/>
<circle cx="1305" cy="1420" r="3" fill="#fff"/><circle cx="1315" cy="1420" r="3" fill="#fff"/><circle cx="1325" cy="1420" r="3" fill="#fff"/>
<text x="1090" y="1458" style="fill:#e4e4e4;font-size:13px">https://blog.csdn.net/weixin_</text>
<text x="1296" y="1458" style="fill:#bbb;font-size:12px;font-family:'Liberation Sans','Noto Sans CJK SC',sans-serif">ST中文论坛</text>
</svg>
</body></html>
